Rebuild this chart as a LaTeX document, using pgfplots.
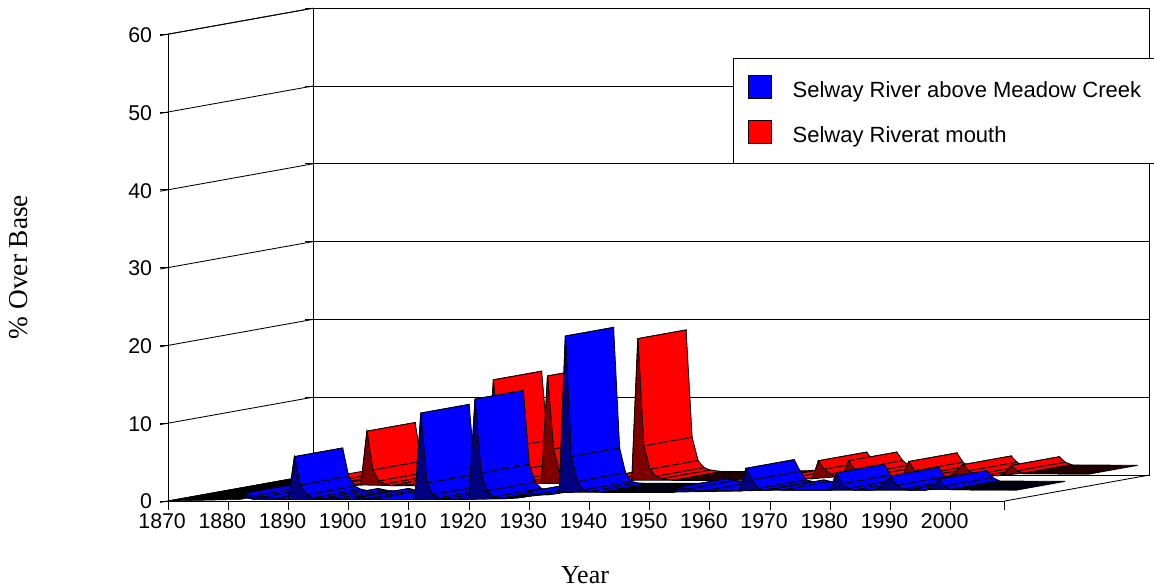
\documentclass[border=0pt]{standalone}
\usepackage{fontspec}
\setmainfont{Liberation Sans}
\newfontfamily\timesfont{Liberation Serif}
\usepackage{pgfplots}
\pgfplotsset{compat=1.18}

\definecolor{darkblue}{RGB}{0,0,128}
\definecolor{darkred}{RGB}{128,0,0}
\definecolor{tailblue}{RGB}{0,0,16}
\definecolor{tailred}{RGB}{32,0,0}

\pgfplotsset{
  colormap={blueflat}{color=(blue) color=(blue)},
  colormap={redflat}{color=(red) color=(red)},
  colormap={blueblack}{color=(tailblue) color=(tailblue)},
  colormap={redblack}{color=(tailred) color=(tailred)},
}

% one stretch of a ribbon: colormap, front colour, depth from, depth to, year/value list
\newcommand{\ribbonseg}[5]{%
  \gdef\rows{}\gdef\face{}\gdef\first{}%
  \foreach \yr/\val in {#5}{%
    \ifx\first\empty\xdef\first{(\yr,#3,\val)}\fi
    \xdef\rows{\rows(\yr,#3,\val)(\yr,#4,\val)}%
    \xdef\face{\face(\yr,#3,\val)}}%
  \edef\doplot{%
    \noexpand\addplot3[surf,forget plot,shader=faceted,faceted color=black,line width=0.65pt,
      z buffer=none,mesh/cols=2,colormap name=#1] coordinates {\rows};
    \noexpand\addplot3[forget plot,no marks,draw=black,line width=0.65pt,fill=#2]
      coordinates {\face\first};}%
  \doplot}
\newcommand{\redseg}[1]{\ribbonseg{redflat}{darkred}{0.5}{0.833}{#1}}
\newcommand{\blueseg}[1]{\ribbonseg{blueflat}{darkblue}{0}{0.333}{#1}}

\begin{document}
\begin{tikzpicture}
\begin{axis}[
  x={(4.515pt,0pt)}, y={(108.75pt,19.5pt)}, z={(0pt,5.835pt)},
  xmin=1870, xmax=2009, ymin=0, ymax=1, zmin=0, zmax=60,
  clip=false,
  axis lines=box,
  3d box=background,
  xtick pos=lower,
  ztick pos=left,
  xtick={1870,1880,1890,1900,1910,1920,1930,1940,1950,1960,1970,1980,1990,2000,2009},
  xticklabels={1870,1880,1890,1900,1910,1920,1930,1940,1950,1960,1970,1980,1990,2000,},
  ytick=\empty,
  ztick={0,10,20,30,40,50,60},
  zmajorgrids=true,
  major grid style={black,line width=0.65pt},
  axis line style={black,line width=0.65pt},
  tick style={black,line width=0.65pt},
  xtick style={draw=none},
  major tick length=6pt,
  tick align=outside,
  tick label style={font=\fontsize{16}{18}\selectfont},
  xticklabel style={anchor=north,xshift=1.5pt,yshift=-5pt},
  zticklabel style={xshift=-2.5pt,yshift=1.5pt},
  /pgf/number format/assume math mode=true,
  point meta min=0, point meta max=60,
  legend style={at={(axis cs:1870,0,0)},anchor=north west,xshift=423.75pt,yshift=332.25pt,
    draw=black,line width=0.65pt,fill=white,font=\fontsize{16.5}{18}\selectfont,
    inner xsep=11pt,inner ysep=12.75pt,row sep=13.75pt,column sep=13.5pt},
  legend cell align=left,
  legend image code/.code={\draw[#1,draw=black,line width=0.65pt] (0pt,-6.35pt) rectangle (17.25pt,10.85pt);},
]
\addlegendimage{fill=blue}
\addlegendentry{Selway River above Meadow Creek}
\addlegendimage{fill=red}
\addlegendentry{Selway Riverat mouth}

% dense, near-zero start of both ribbons reads as a black wedge
\addplot3[forget plot,no marks,draw=black,fill=black] coordinates {(1870,0,0)(1870,0.833,0)(1882,0.833,0.3)(1882,0,0.2)(1870,0,0)};

% Selway River at mouth (rear ribbon)
\redseg{1882/1.0,1883/0.5,1884/0.3,1885/0.3,1888/0.3,1890/0.4}
\redseg{1890/0.4,1891/7.3,1892/2.3,1893/0.9,1894/0.5,1895/0.3,1896/0.3}
\redseg{1896/0.3,1897/0.6,1898/0.4,1899/0.3,1901/0.3}
\redseg{1901/0.3,1902/0.6,1903/0.4,1904/0.3,1911/0.3}
\redseg{1911/0.3,1912/13.9,1913/5,1914/2,1915/0.9,1916/0.6,1917/0.5,1920/0.6}
\redseg{1920/0.6,1921/14.4,1922/5,1923/2,1924/1,1925/0.7,1926/0.6}
\redseg{1926/0.6,1929/0.7,1930/1.3,1931/1,1935/1}
\redseg{1935/1,1936/19.2,1937/5.4,1938/2.4,1939/1.5,1940/1.2,1942/1}
\ribbonseg{redblack}{tailred}{0.5}{0.833}{1942/1,1952/1}
\redseg{1952/1,1953/1.3,1954/1.1,1956/1.1,1958/1.2,1960/1.1,1965/1.2}
\redseg{1965/1.2,1966/3.5,1967/2.4,1968/1.8,1969/1.5,1970/1.5}
\redseg{1970/1.5,1971/3.5,1972/2.4,1973/1.8,1974/1.5,1980/1.5}
\redseg{1980/1.5,1981/3.4,1982/2.2,1983/1.7,1984/1.5,1988/1.5}
\redseg{1988/1.7,1989/2.2,1990/3,1991/2.2,1992/1.7,1993/1.5,1996/1.6}
\redseg{1996/1.6,1997/1.9,1998/2.9,1999/2.2,2000/1.9}
\ribbonseg{redblack}{tailred}{0.5}{0.833}{2000/1.85,2011/1.8}

% Selway River above Meadow Creek (front ribbon)
\blueseg{1882/0.9,1883/0.45,1884/0.25,1887/0.2,1890/0.2}
\blueseg{1890/0.2,1891/5.7,1892/2.05,1893/0.8,1894/0.4,1895/0.25,1896/0.2}
\blueseg{1896/0.2,1897/0.5,1898/0.3,1899/0.2,1901/0.2}
\blueseg{1901/0.2,1902/0.5,1903/0.3,1904/0.2,1911/0.2}
\blueseg{1911/0.2,1912/11.3,1913/2.3,1914/0.8,1915/0.4,1916/0.25,1918/0.2,1920/0.2}
\blueseg{1920/0.2,1921/13.1,1922/3.6,1923/1.3,1924/0.5,1925/0.3,1926/0.3}
\blueseg{1926/0.3,1928/0.4,1929/0.5,1930/1.2,1931/0.8,1933/0.8,1935/1}
\blueseg{1935/1.1,1936/21.2,1937/5.7,1938/2.5,1939/1.4,1940/1.2,1942/1.15}
\ribbonseg{blueblack}{tailblue}{0}{0.333}{1942/1.15,1954/1.15}
\blueseg{1954/1.15,1955/1.8,1956/1.5,1959/1.3,1965/1.3}
\blueseg{1965/1.3,1966/4.2,1967/2.7,1968/1.6,1969/1.4,1970/1.4}
\blueseg{1970/1.4,1971/1.6,1972/1.4,1980/1.4}
\blueseg{1980/1.4,1981/3.6,1982/2.2,1983/1.6,1984/1.4,1987/1.4}
\blueseg{1987/1.4,1988/1.6,1989/2.2,1990/3.2,1991/2,1992/1.5,1993/1.4,1996/1.4}
\blueseg{1996/1.5,1997/1.7,1998/2.8,1999/1.9,2000/1.5}
\ribbonseg{blueblack}{tailblue}{0}{0.333}{2000/1.45,2011/1.41}

% ticks on the year axis hang straight down
\pgfplotsinvokeforeach{1870,1880,1890,1900,1910,1920,1930,1940,1950,1960,1970,1980,1990,2000,2009}{
  \draw[black,line width=0.65pt] (axis cs:#1,0,0) -- ++(0pt,-6.5pt);
}

\coordinate (O) at (axis cs:1870,0,0);
\end{axis}
\node[font=\timesfont\fontsize{19.5}{20}\selectfont] at ([shift={(312.75pt,-55.5pt)}]O) {Year};
\node[font=\timesfont\fontsize{20.5}{22}\selectfont,rotate=90] at ([shift={(-112pt,175.5pt)}]O) {\% Over Base};
\pgfresetboundingbox
\path[use as bounding box] ([shift={(-126pt,-64.5pt)}]O) rectangle ([shift={(739.5pt,375.75pt)}]O);
\end{tikzpicture}
\end{document}
